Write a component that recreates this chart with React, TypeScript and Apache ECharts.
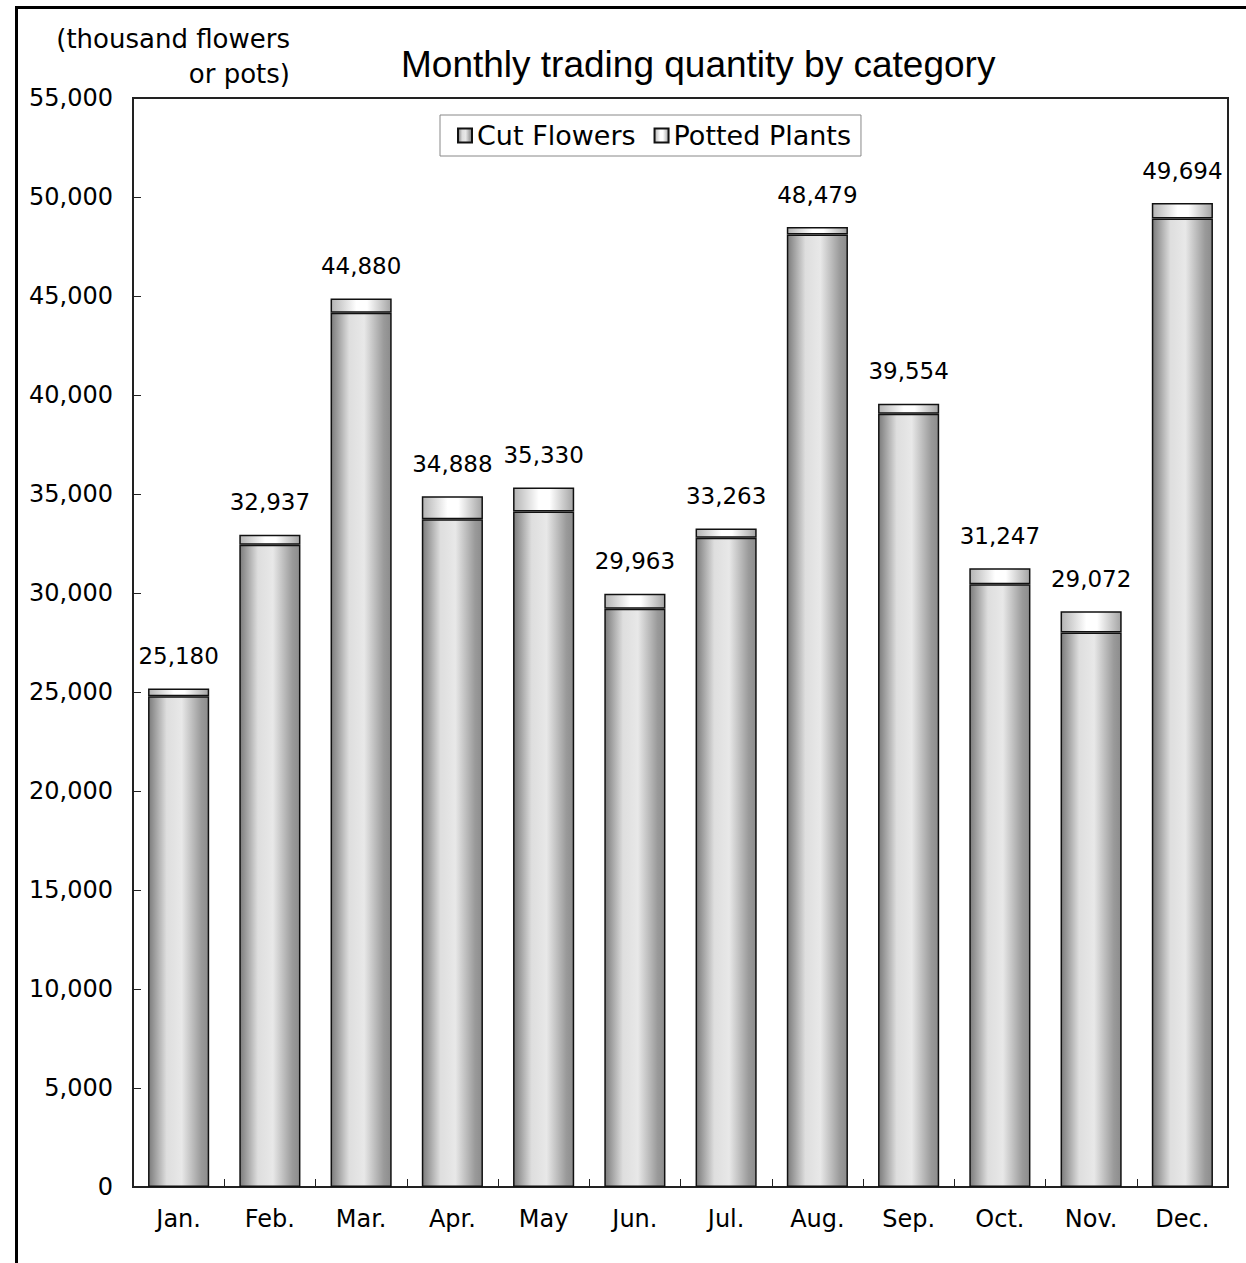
import React, { useEffect, useRef } from "react";
import * as echarts from "echarts";

const months = ["Jan.", "Feb.", "Mar.", "Apr.", "May", "Jun.", "Jul.", "Aug.", "Sep.", "Oct.", "Nov.", "Dec."];
const totals = [25180, 32937, 44880, 34888, 35330, 29963, 33263, 48479, 39554, 31247, 29072, 49694];
const cutFlowers = [24780, 32432, 44150, 33725, 34117, 29205, 32793, 48110, 39049, 30438, 28010, 48919];
const pottedPlants = totals.map((t, i) => t - cutFlowers[i]);
const yTicks = { min: 0, max: 55000, interval: 5000 };

const TITLE_FONT = "'Liberation Sans', Arial, sans-serif";
const FONT = "'DejaVu Sans', 'Liberation Sans', sans-serif";

function fmt(n: number): string {
  return String(n).replace(/\B(?=(\d{3})+(?!\d))/g, ",");
}

export default function App() {
  const ref = useRef<HTMLDivElement>(null);
  useEffect(() => {
    if (!ref.current) return;
    document.body.style.margin = "0";
    const chart = echarts.init(ref.current, undefined, { renderer: "svg" });
    const cutGrad = new echarts.graphic.LinearGradient(0, 0, 1, 0, [
      { offset: 0, color: "#7c7c7c" },
      { offset: 0.3, color: "#dedede" },
      { offset: 0.55, color: "#e8e8e8" },
      { offset: 0.88, color: "#9a9a9a" },
      { offset: 1, color: "#8c8c8c" },
    ]);
    const potGrad = new echarts.graphic.LinearGradient(0, 0, 1, 0, [
      { offset: 0, color: "#b4b4b4" },
      { offset: 0.42, color: "#ffffff" },
      { offset: 0.6, color: "#ffffff" },
      { offset: 1, color: "#a4a4a4" },
    ]);
    chart.setOption({
      animation: false,
      backgroundColor: "#ffffff",
      textStyle: { fontFamily: FONT },
      title: {
        text: "Monthly trading quantity by category",
        left: 396,
        top: 41,
        textStyle: { fontFamily: TITLE_FONT, fontSize: 37, fontWeight: "normal", color: "#000" },
      },
      legend: {
        top: 115,
        left: 440,
        padding: [7, 10, 7, 17],
        itemWidth: 14,
        itemHeight: 14,
        itemGap: 18,
        borderColor: "#888",
        borderWidth: 1,
        backgroundColor: "#fff",
        icon: "rect",
        textStyle: { fontFamily: FONT, fontSize: 27, color: "#000", padding: [0, 0, 0, 0] },
        data: ["Cut Flowers", "Potted Plants"],
      },
      grid: {
        left: 133,
        right: 18,
        top: 98,
        bottom: 76,
        show: true,
        borderColor: "#222",
        borderWidth: 2,
        backgroundColor: "transparent",
      },
      xAxis: {
        type: "category",
        data: months,
        axisLine: { lineStyle: { color: "#222", width: 2 } },
        axisTick: { show: true, inside: true, length: 8, lineStyle: { color: "#222" } },
        axisLabel: { fontFamily: FONT, fontSize: 24, color: "#000", margin: 20 },
      },
      yAxis: {
        type: "value",
        min: yTicks.min,
        max: yTicks.max,
        interval: yTicks.interval,
        axisLine: { show: true, lineStyle: { color: "#222", width: 2 } },
        axisTick: { show: true, inside: true, length: 8, lineStyle: { color: "#222" } },
        splitLine: { show: false },
        axisLabel: {
          fontFamily: FONT,
          fontSize: 24,
          color: "#000",
          margin: 20,
          formatter: (v: number) => fmt(v),
        },
      },
      graphic: [
        {
          type: "rect",
          shape: { x: 16.5, y: 7.5, width: 1400, height: 1400 },
          style: { fill: "none", stroke: "#000", lineWidth: 3 },
          silent: true,
        },
        {
          type: "text",
          x: 290,
          y: 21,
          style: {
            text: "(thousand flowers\nor pots)",
            align: "right",
            fontFamily: FONT,
            fontSize: 26,
            lineHeight: 35,
            fill: "#000",
          },
        },
      ],
      series: [
        {
          name: "Cut Flowers",
          type: "bar",
          stack: "total",
          data: cutFlowers,
          barCategoryGap: "33%",
          itemStyle: { color: cutGrad, borderColor: "#111", borderWidth: 1.5 },
        },
        {
          name: "Potted Plants",
          type: "bar",
          stack: "total",
          data: pottedPlants,
          itemStyle: { color: potGrad, borderColor: "#111", borderWidth: 1.5 },
          label: {
            show: true,
            position: "top",
            distance: 21,
            fontFamily: FONT,
            fontSize: 23,
            color: "#000",
            formatter: (p: any) => fmt(totals[p.dataIndex]),
          },
        },
      ],
    });
    return () => chart.dispose();
  }, []);
  return <div ref={ref} style={{ position: "absolute", left: 0, top: 0, width: 1246, height: 1263 }} />;
}
